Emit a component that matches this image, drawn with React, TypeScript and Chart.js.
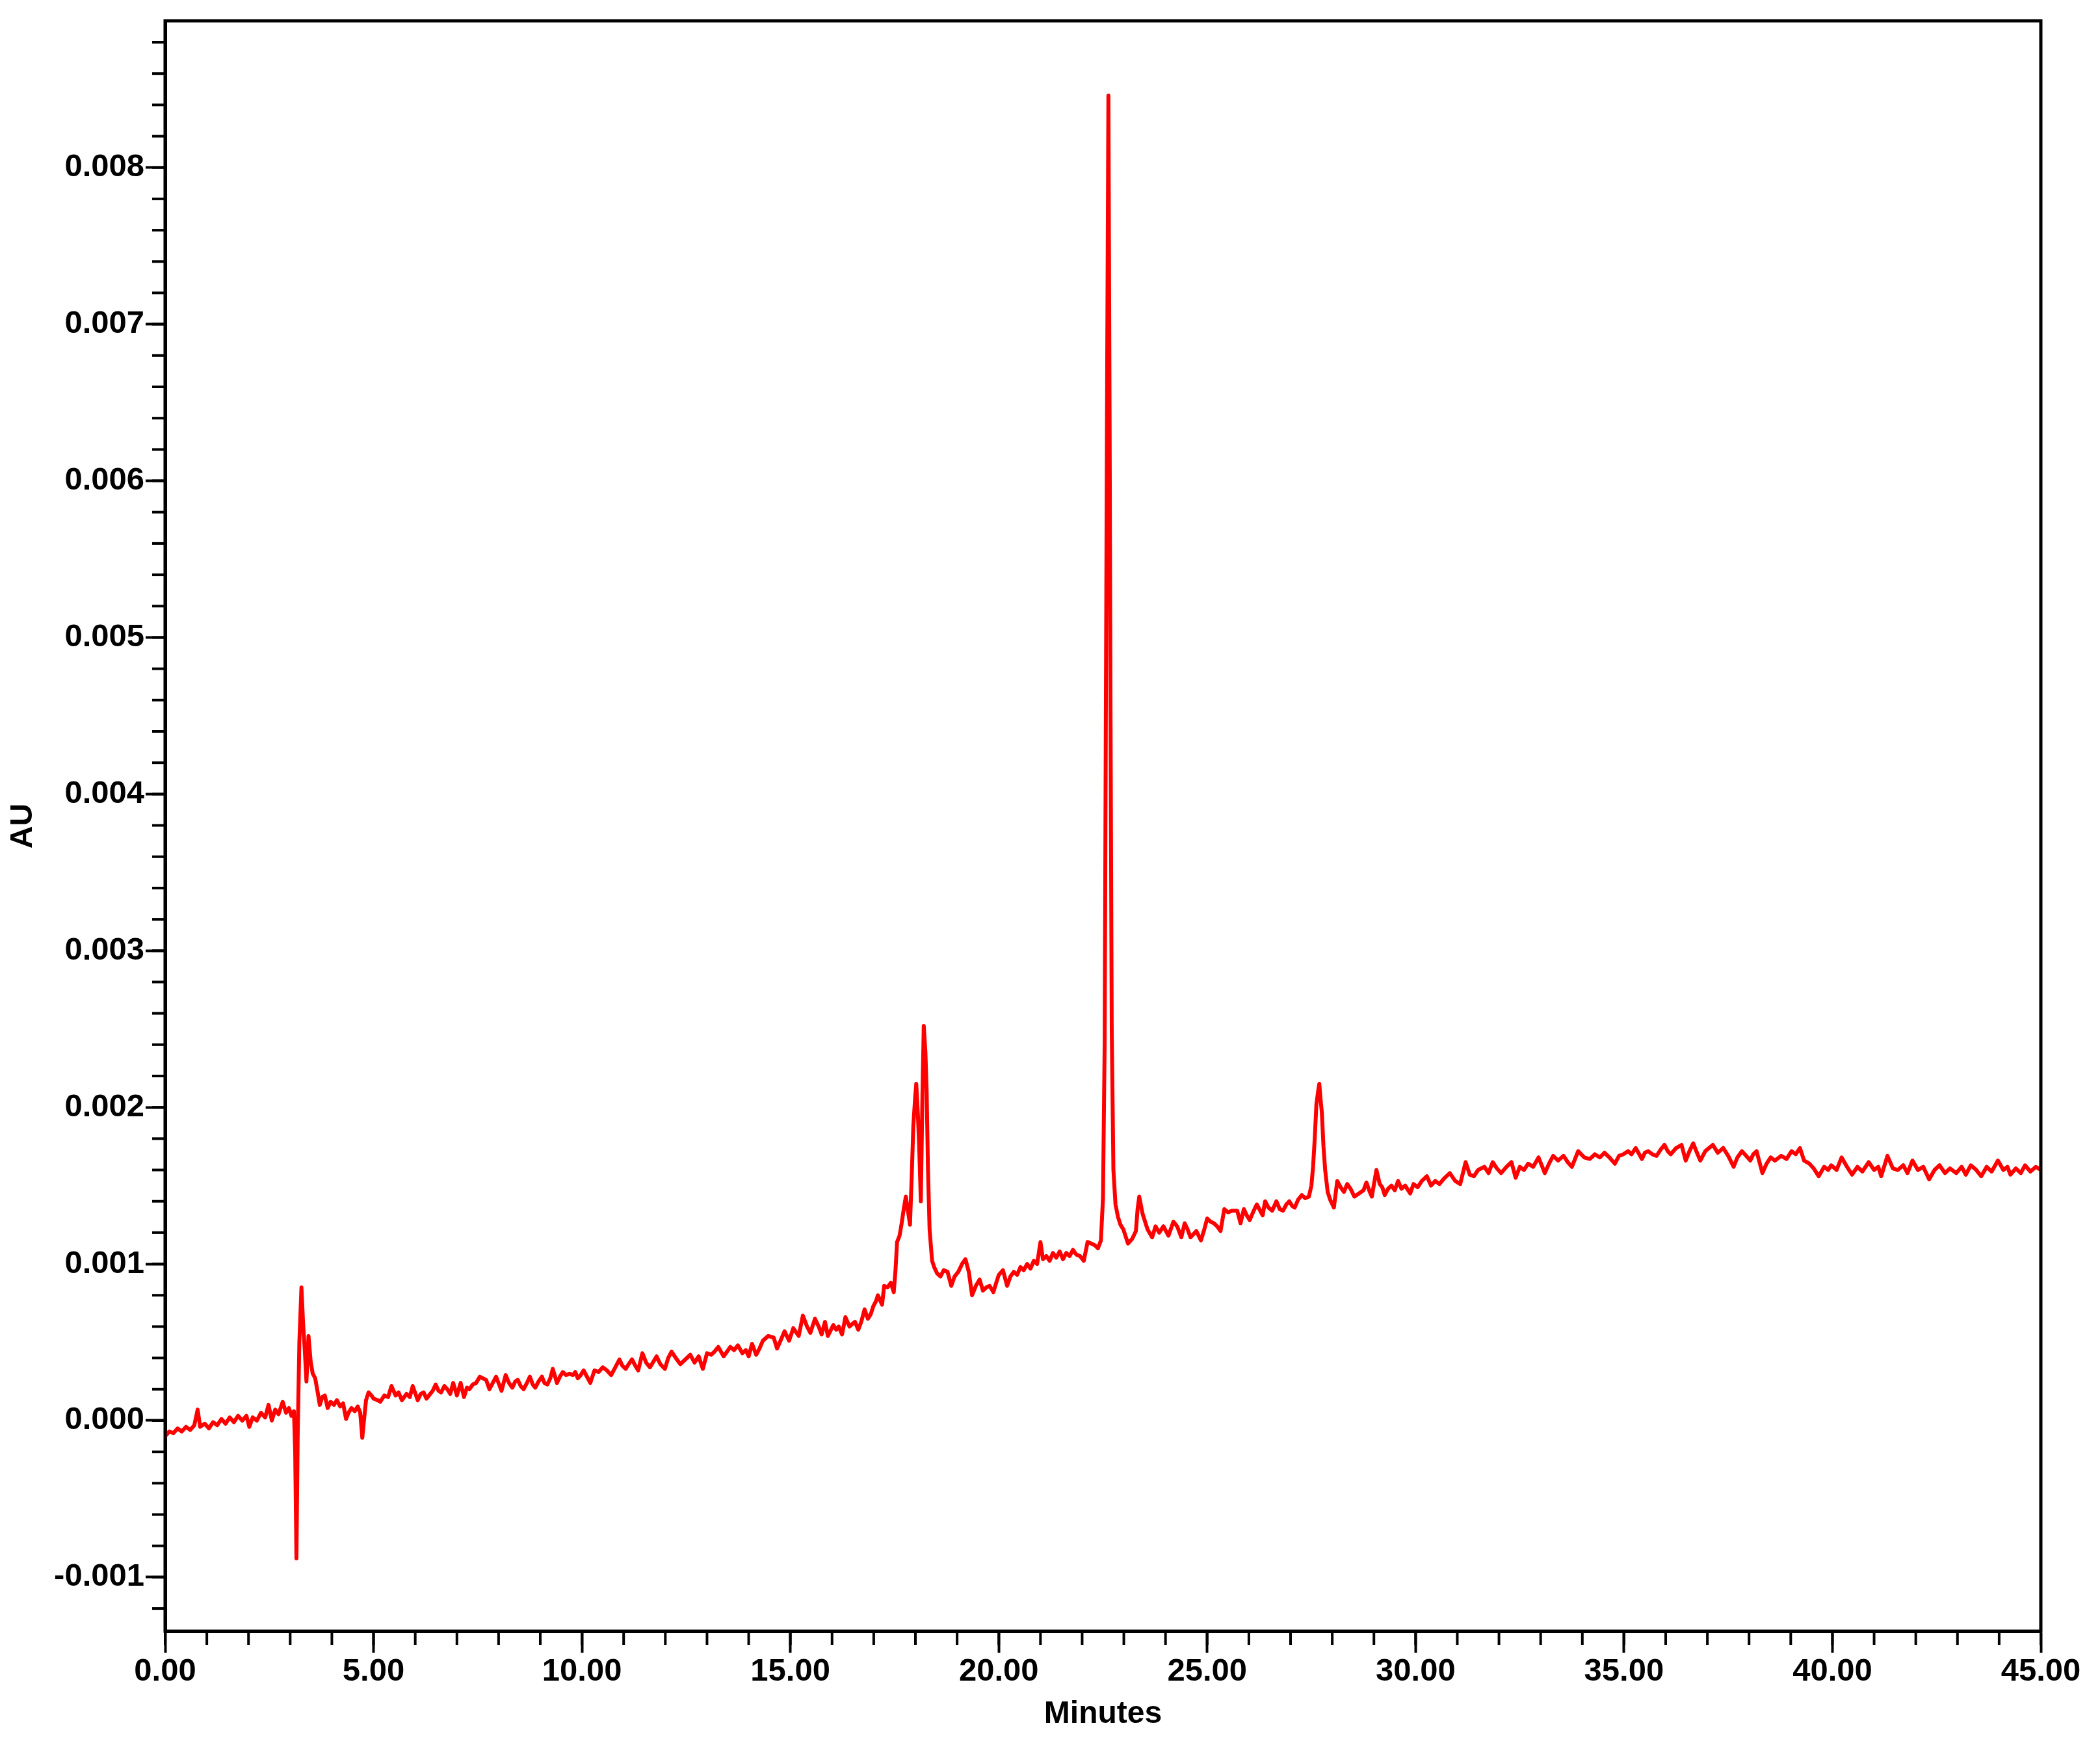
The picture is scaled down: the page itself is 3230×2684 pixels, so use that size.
import { useEffect, useRef } from "react";
import { Chart, registerables } from "chart.js";

Chart.register(...registerables);

// ---------- axis definitions ----------
const X_MIN = 0;
const X_MAX = 45;
const Y_MIN = -0.001345;
const Y_MAX = 0.008937;
const X_MAJOR_TICKS = [0, 5, 10, 15, 20, 25, 30, 35, 40, 45];
const X_TICK_LABELS = ["0.00", "5.00", "10.00", "15.00", "20.00", "25.00", "30.00", "35.00", "40.00", "45.00"];
const Y_MAJOR_TICKS = [-0.001, 0, 0.001, 0.002, 0.003, 0.004, 0.005, 0.006, 0.007, 0.008];
const Y_TICK_LABELS = ["-0.001", "0.000", "0.001", "0.002", "0.003", "0.004", "0.005", "0.006", "0.007", "0.008"];
const X_MINOR_STEP = 1;
const Y_MINOR_STEP = 0.0002;
const X_TITLE = "Minutes";
const Y_TITLE = "AU";

// ---------- trace data: [retention time (min), signal (mAU)] ----------
const preInjection: [number, number][] = [
  [0.0, -0.1], [0.1, -0.07], [0.2, -0.08], [0.3, -0.05], [0.4, -0.07], [0.5, -0.04], [0.6, -0.06], [0.7, -0.03],
  [0.78, 0.07], [0.84, -0.04], [0.95, -0.02], [1.05, -0.05], [1.15, -0.01], [1.25, -0.03], [1.35, 0.01], [1.45, -0.02],
  [1.55, 0.02], [1.65, -0.01], [1.75, 0.03], [1.85, 0.0], [1.95, 0.03], [2.02, -0.04], [2.1, 0.02], [2.2, 0.0],
  [2.3, 0.05], [2.4, 0.02], [2.48, 0.1], [2.56, 0.0], [2.64, 0.07], [2.72, 0.04], [2.82, 0.12], [2.9, 0.05],
  [2.97, 0.08], [3.03, 0.03], [3.09, 0.06],
];

const injectionDisturbance: [number, number][] = [
  [3.12, -0.2], [3.15, -0.88], [3.18, -0.1], [3.22, 0.5], [3.27, 0.85], [3.31, 0.62], [3.35, 0.45], [3.39, 0.25],
  [3.44, 0.54], [3.49, 0.38], [3.54, 0.3], [3.6, 0.27], [3.66, 0.18], [3.71, 0.1], [3.77, 0.15], [3.83, 0.16],
  [3.9, 0.08], [3.97, 0.12], [4.05, 0.1], [4.12, 0.13], [4.2, 0.09], [4.27, 0.11], [4.34, 0.01], [4.4, 0.05],
  [4.47, 0.08], [4.55, 0.06], [4.62, 0.09], [4.68, 0.05], [4.73, -0.11], [4.77, 0.0], [4.82, 0.13], [4.88, 0.18],
  [4.95, 0.16], [5.0, 0.14],
];

const earlyBaseline: [number, number][] = [
  [5.1, 0.13], [5.16, 0.12], [5.26, 0.16], [5.35, 0.15], [5.43, 0.22], [5.53, 0.16], [5.6, 0.18], [5.68, 0.13],
  [5.79, 0.17], [5.87, 0.15], [5.94, 0.22], [6.06, 0.13], [6.13, 0.17], [6.2, 0.18], [6.27, 0.14], [6.33, 0.16],
  [6.42, 0.19], [6.49, 0.23], [6.56, 0.19], [6.62, 0.18], [6.7, 0.22], [6.77, 0.2], [6.84, 0.17], [6.91, 0.24],
  [7.0, 0.16], [7.09, 0.24], [7.17, 0.15], [7.24, 0.21], [7.3, 0.2], [7.38, 0.23], [7.46, 0.24], [7.55, 0.28],
  [7.62, 0.27], [7.7, 0.26], [7.78, 0.2], [7.86, 0.24], [7.94, 0.28], [8.07, 0.19], [8.17, 0.29], [8.25, 0.24],
  [8.33, 0.21], [8.4, 0.25], [8.46, 0.26], [8.53, 0.22], [8.6, 0.2], [8.68, 0.24], [8.75, 0.28], [8.82, 0.23],
  [8.88, 0.21], [8.96, 0.25], [9.04, 0.28], [9.1, 0.24], [9.17, 0.23], [9.24, 0.27], [9.3, 0.33], [9.4, 0.24],
  [9.47, 0.28], [9.54, 0.31], [9.62, 0.29], [9.7, 0.3], [9.78, 0.29], [9.84, 0.31], [9.9, 0.27], [9.97, 0.29],
  [10.04, 0.32], [10.12, 0.28], [10.2, 0.24], [10.3, 0.32], [10.4, 0.31], [10.5, 0.34], [10.6, 0.32], [10.7, 0.29],
  [10.8, 0.34], [10.9, 0.39], [10.97, 0.35], [11.05, 0.33], [11.12, 0.36], [11.2, 0.39],
];

const midBaseline: [number, number][] = [
  [11.28, 0.35], [11.35, 0.32], [11.45, 0.43], [11.54, 0.37], [11.63, 0.34], [11.7, 0.37], [11.79, 0.41], [11.88, 0.36],
  [11.99, 0.33], [12.07, 0.4], [12.15, 0.44], [12.25, 0.4], [12.36, 0.36], [12.48, 0.39], [12.6, 0.42], [12.7, 0.37],
  [12.8, 0.41], [12.9, 0.33], [13.0, 0.43], [13.1, 0.42], [13.18, 0.44], [13.27, 0.47], [13.4, 0.41], [13.48, 0.44],
  [13.56, 0.47], [13.65, 0.45], [13.74, 0.48], [13.85, 0.43], [13.93, 0.45], [14.0, 0.41], [14.08, 0.49], [14.18, 0.42],
  [14.26, 0.46], [14.34, 0.51], [14.47, 0.54], [14.6, 0.53], [14.68, 0.46], [14.78, 0.52], [14.86, 0.57], [14.97, 0.51],
  [15.07, 0.59], [15.2, 0.54], [15.3, 0.67], [15.4, 0.6], [15.48, 0.56], [15.59, 0.65], [15.68, 0.6], [15.75, 0.55],
  [15.83, 0.63], [15.9, 0.54], [16.03, 0.61], [16.1, 0.58], [16.16, 0.6], [16.24, 0.55], [16.32, 0.66], [16.42, 0.6],
  [16.5, 0.62], [16.55, 0.63], [16.63, 0.58], [16.7, 0.63], [16.78, 0.71], [16.86, 0.65], [16.93, 0.68], [16.99, 0.73],
  [17.05, 0.76], [17.1, 0.8], [17.2, 0.74], [17.25, 0.86], [17.33, 0.85], [17.41, 0.88], [17.48, 0.82],
];

const peakCluster18: [number, number][] = [
  [17.52, 0.95], [17.56, 1.14], [17.62, 1.18], [17.67, 1.26], [17.72, 1.35], [17.77, 1.43], [17.82, 1.34], [17.87, 1.25],
  [17.91, 1.55], [17.95, 1.88], [17.99, 2.05], [18.02, 2.15], [18.06, 1.95], [18.09, 1.75], [18.13, 1.4], [18.17, 2.1],
  [18.2, 2.52], [18.24, 2.35], [18.27, 2.1], [18.3, 1.62], [18.34, 1.22], [18.4, 1.02], [18.45, 0.98], [18.52, 0.94],
  [18.6, 0.92], [18.68, 0.96], [18.77, 0.95], [18.86, 0.86], [18.94, 0.92], [19.03, 0.95], [19.12, 1.0], [19.2, 1.03],
  [19.28, 0.95], [19.36, 0.8], [19.45, 0.86], [19.54, 0.9], [19.62, 0.83], [19.7, 0.85], [19.78, 0.86], [19.87, 0.82],
  [19.94, 0.88], [20.0, 0.93], [20.1, 0.96], [20.2, 0.86],
];

const preMainBaseline: [number, number][] = [
  [20.28, 0.92], [20.36, 0.95], [20.44, 0.93], [20.52, 0.98], [20.6, 0.96], [20.68, 1.0], [20.76, 0.97], [20.84, 1.02],
  [20.92, 1.0], [21.0, 1.14], [21.06, 1.03], [21.14, 1.05], [21.22, 1.02], [21.3, 1.07], [21.38, 1.04], [21.46, 1.08],
  [21.54, 1.03], [21.62, 1.07], [21.7, 1.05], [21.78, 1.09], [21.86, 1.06], [21.95, 1.05], [22.04, 1.02], [22.13, 1.14],
  [22.22, 1.13], [22.3, 1.12], [22.38, 1.1], [22.45, 1.15],
];

const mainPeak: [number, number][] = [
  [22.5, 1.42], [22.54, 2.4], [22.57, 4.6], [22.6, 6.7], [22.63, 8.46], [22.66, 6.3], [22.68, 4.6], [22.71, 2.5],
  [22.75, 1.6], [22.8, 1.38], [22.86, 1.3],
];

const postMainBaseline: [number, number][] = [
  [22.92, 1.25], [22.99, 1.22], [23.1, 1.13], [23.2, 1.16], [23.29, 1.21], [23.33, 1.35], [23.37, 1.43], [23.45, 1.32],
  [23.57, 1.22], [23.68, 1.17], [23.76, 1.24], [23.85, 1.2], [23.95, 1.24], [24.07, 1.18], [24.19, 1.27], [24.28, 1.24],
  [24.38, 1.17], [24.46, 1.26], [24.53, 1.22], [24.6, 1.17], [24.74, 1.21], [24.85, 1.15], [24.93, 1.22], [25.0, 1.29],
  [25.08, 1.27], [25.16, 1.26], [25.24, 1.24], [25.32, 1.21], [25.41, 1.35], [25.5, 1.33], [25.6, 1.34], [25.72, 1.34],
  [25.8, 1.26], [25.88, 1.35], [25.95, 1.31], [26.02, 1.28], [26.1, 1.33], [26.19, 1.38], [26.27, 1.34], [26.33, 1.31],
  [26.39, 1.4], [26.47, 1.36], [26.56, 1.34], [26.66, 1.4], [26.74, 1.35], [26.82, 1.34], [26.9, 1.38], [26.97, 1.4],
  [27.04, 1.37], [27.1, 1.36], [27.18, 1.41], [27.27, 1.44], [27.35, 1.42], [27.44, 1.43],
];

const peak28: [number, number][] = [
  [27.5, 1.5], [27.54, 1.62], [27.58, 1.8], [27.62, 2.02], [27.66, 2.1], [27.69, 2.15], [27.72, 2.05], [27.75, 1.97],
  [27.79, 1.75], [27.83, 1.6], [27.89, 1.46], [27.95, 1.41], [28.04, 1.36],
];

const lateBaseline: [number, number][] = [
  [28.12, 1.53], [28.2, 1.49], [28.28, 1.46], [28.36, 1.51], [28.44, 1.48], [28.53, 1.43], [28.64, 1.45], [28.75, 1.47],
  [28.82, 1.52], [28.9, 1.46], [28.95, 1.43], [29.06, 1.6], [29.14, 1.51], [29.2, 1.49], [29.26, 1.44], [29.34, 1.48],
  [29.42, 1.5], [29.5, 1.47], [29.58, 1.53], [29.66, 1.48], [29.75, 1.5], [29.87, 1.45], [29.95, 1.51], [30.05, 1.49],
  [30.15, 1.53], [30.27, 1.56], [30.37, 1.5], [30.47, 1.53], [30.57, 1.51], [30.7, 1.55], [30.82, 1.58], [30.95, 1.53],
  [31.07, 1.51], [31.2, 1.65], [31.3, 1.57], [31.4, 1.56], [31.5, 1.6], [31.65, 1.62], [31.75, 1.58], [31.85, 1.65],
  [31.95, 1.61], [32.05, 1.58], [32.18, 1.62], [32.3, 1.65], [32.4, 1.55], [32.5, 1.62], [32.6, 1.6], [32.7, 1.64],
  [32.82, 1.62], [32.95, 1.68], [33.1, 1.58], [33.2, 1.64], [33.3, 1.69], [33.42, 1.66], [33.55, 1.69], [33.65, 1.65],
  [33.75, 1.62], [33.9, 1.72], [34.05, 1.68], [34.18, 1.67], [34.3, 1.7], [34.42, 1.68], [34.53, 1.71], [34.65, 1.68],
  [34.78, 1.64], [34.88, 1.69], [34.98, 1.7], [35.1, 1.72], [35.18, 1.7], [35.28, 1.74], [35.43, 1.67], [35.5, 1.71],
  [35.58, 1.72], [35.68, 1.7], [35.78, 1.69], [35.88, 1.73], [35.97, 1.76], [36.05, 1.72], [36.12, 1.7], [36.25, 1.74],
  [36.38, 1.76], [36.48, 1.66], [36.57, 1.72], [36.66, 1.77], [36.75, 1.71], [36.83, 1.66], [36.95, 1.72], [37.04, 1.74],
  [37.13, 1.76], [37.25, 1.71], [37.38, 1.74], [37.5, 1.69], [37.63, 1.62], [37.72, 1.68], [37.83, 1.72], [37.93, 1.69],
  [38.03, 1.66], [38.1, 1.7], [38.18, 1.72], [38.25, 1.65], [38.32, 1.58], [38.42, 1.64], [38.52, 1.68], [38.62, 1.66],
  [38.77, 1.69], [38.9, 1.67], [39.02, 1.72], [39.12, 1.7], [39.22, 1.74], [39.32, 1.66], [39.45, 1.64], [39.55, 1.61],
  [39.67, 1.56], [39.8, 1.62], [39.9, 1.6], [39.97, 1.63], [40.1, 1.6], [40.22, 1.68], [40.35, 1.62], [40.47, 1.57],
  [40.6, 1.62], [40.72, 1.59], [40.87, 1.65], [41.0, 1.6], [41.1, 1.62], [41.17, 1.56], [41.32, 1.69], [41.45, 1.61],
  [41.57, 1.6], [41.7, 1.63], [41.8, 1.58], [41.92, 1.66], [42.05, 1.6], [42.18, 1.62], [42.32, 1.54], [42.45, 1.6],
  [42.57, 1.63], [42.7, 1.58], [42.82, 1.61], [42.97, 1.58], [43.1, 1.62], [43.2, 1.57], [43.32, 1.63], [43.45, 1.6],
  [43.57, 1.56], [43.7, 1.62], [43.82, 1.59], [43.97, 1.66], [44.1, 1.6], [44.2, 1.62], [44.27, 1.57], [44.4, 1.61],
  [44.52, 1.58], [44.62, 1.63], [44.75, 1.59], [44.88, 1.62], [45.0, 1.6],
];

const TRACE_SEGMENTS = [
  preInjection, injectionDisturbance, earlyBaseline, midBaseline, peakCluster18,
  preMainBaseline, mainPeak, postMainBaseline, peak28, lateBaseline,
];

// ---------- styling ----------
const FONT_FAMILY = '"Liberation Sans", Arial, Helvetica, sans-serif';
const LINE_COLOR = "#ff0000";
const AXIS_COLOR = "#000000";

const frameAndMinorTicks = {
  id: "frameAndMinorTicks",
  afterDraw(chart: any) {
    const { ctx, chartArea: a, scales } = chart;
    ctx.save();
    ctx.strokeStyle = AXIS_COLOR;
    ctx.lineWidth = 5;
    ctx.strokeRect(a.left, a.top, a.right - a.left, a.bottom - a.top);
    ctx.lineWidth = 4;
    const xs = scales.x;
    const xStart = Math.ceil(xs.min / X_MINOR_STEP - 1e-9);
    for (let i = xStart; i * X_MINOR_STEP <= xs.max + 1e-9; i++) {
      const px = xs.getPixelForValue(i * X_MINOR_STEP);
      ctx.beginPath();
      ctx.moveTo(px, a.bottom);
      ctx.lineTo(px, a.bottom + 21);
      ctx.stroke();
    }
    const ys = scales.y;
    const yStart = Math.ceil(ys.min / Y_MINOR_STEP - 1e-9);
    for (let i = yStart; i * Y_MINOR_STEP <= ys.max + 1e-12; i++) {
      const py = ys.getPixelForValue(i * Y_MINOR_STEP);
      ctx.beginPath();
      ctx.moveTo(a.left, py);
      ctx.lineTo(a.left - 20, py);
      ctx.stroke();
    }
    ctx.restore();
  },
};

export default function App() {
  const canvasRef = useRef<HTMLCanvasElement | null>(null);

  useEffect(() => {
    const canvas = canvasRef.current;
    if (!canvas) return;
    const points = TRACE_SEGMENTS.flat().map(([t, mau]) => ({ x: t, y: mau / 1000 }));
    const tickFont = { family: FONT_FAMILY, size: 49, weight: "bold" as const };
    const titleFont = { family: FONT_FAMILY, size: 48, weight: "bold" as const };

    const chart = new Chart(canvas, {
      type: "line",
      data: {
        datasets: [
          {
            data: points,
            borderColor: LINE_COLOR,
            borderWidth: 6,
            borderJoinStyle: "round",
            pointRadius: 0,
            tension: 0,
            fill: false,
          },
        ],
      },
      options: {
        responsive: false,
        animation: false,
        devicePixelRatio: 1,
        events: [],
        layout: { padding: { top: 32, right: 91, left: 0, bottom: 0 } },
        plugins: {
          legend: { display: false },
          tooltip: { enabled: false },
          title: { display: false },
        },
        scales: {
          x: {
            type: "linear",
            bounds: "data",
            min: X_MIN,
            max: X_MAX,
            afterBuildTicks: (scale: any) => {
              scale.ticks = X_MAJOR_TICKS.map((v) => ({ value: v }));
            },
            afterFit: (scale: any) => {
              scale.height = 175;
            },
            ticks: {
              autoSkip: false,
              maxRotation: 0,
              minRotation: 0,
              padding: 0,
              color: AXIS_COLOR,
              font: tickFont,
              callback: (_v: any, i: number) => X_TICK_LABELS[i],
            },
            grid: {
              display: true,
              drawOnChartArea: false,
              drawTicks: true,
              tickLength: 33,
              tickWidth: 4,
              tickColor: AXIS_COLOR,
            },
            border: { display: true, color: AXIS_COLOR, width: 5 },
            title: {
              display: true,
              text: X_TITLE,
              color: AXIS_COLOR,
              font: titleFont,
              padding: { top: 0, bottom: 18 },
            },
          },
          y: {
            type: "linear",
            bounds: "data",
            min: Y_MIN,
            max: Y_MAX,
            afterBuildTicks: (scale: any) => {
              scale.ticks = Y_MAJOR_TICKS.map((v) => ({ value: v }));
            },
            afterFit: (scale: any) => {
              scale.width = 254;
            },
            ticks: {
              autoSkip: false,
              padding: 2,
              color: AXIS_COLOR,
              font: tickFont,
              callback: (_v: any, i: number) => Y_TICK_LABELS[i],
            },
            grid: {
              display: true,
              drawOnChartArea: false,
              drawTicks: true,
              tickLength: 30,
              tickWidth: 4,
              tickColor: AXIS_COLOR,
            },
            border: { display: true, color: AXIS_COLOR, width: 5 },
            title: {
              display: true,
              text: Y_TITLE,
              color: AXIS_COLOR,
              font: titleFont,
              padding: { top: 7, bottom: 0 },
            },
          },
        },
      },
      plugins: [frameAndMinorTicks],
    } as any);

    return () => chart.destroy();
  }, []);

  return (
    <div style={{ position: "fixed", left: 0, top: 0, width: 3230, height: 2684, background: "#ffffff" }}>
      <canvas ref={canvasRef} width={3230} height={2684} style={{ display: "block", width: 3230, height: 2684 }} />
    </div>
  );
}
